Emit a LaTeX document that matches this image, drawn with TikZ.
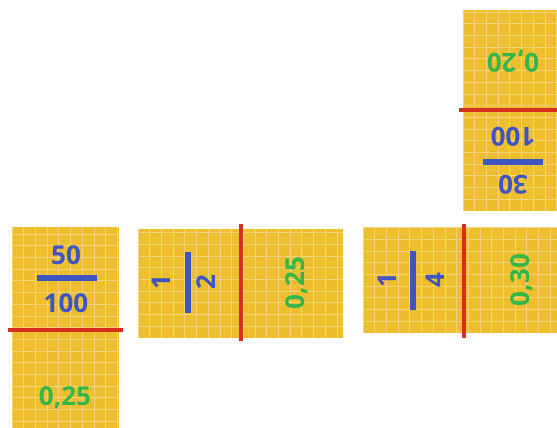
\documentclass[tikz,border=0pt]{standalone}
\usepackage{fontspec}
\usepackage{xcolor}
\usepackage{tikz}
\usetikzlibrary{positioning,calc}
\newfontfamily\digitfont{Open Sans}

\definecolor{tileyellow}{RGB}{238,190,46}
\definecolor{cutred}{RGB}{214,48,28}
\definecolor{fracblue}{RGB}{62,84,192}
\definecolor{decgreen}{RGB}{52,182,72}

% one domino half-pair: fill + light grid
\newcommand{\tilebox}[4]{%
  \fill[tile] (#1,#2) rectangle ++(#3,#4);
  \begin{scope}
    \clip (#1,#2) rectangle ++(#3,#4);
    \draw[gridline,shift={(#1,#2)}] (0,0) grid (#3,#4);
  \end{scope}}

\begin{document}
\begin{tikzpicture}[x=1pt,y=1pt,
  tile/.style={fill=tileyellow},
  gridline/.style={draw=white,opacity=0.35,line width=0.8pt,step=11.7},
  cut/.style={draw=cutred,line width=3.8pt},
  bar/.style={draw=fracblue,line width=5.2pt},
  frac/.style={font=\digitfont\bfseries\fontsize{26}{26}\selectfont,text=fracblue,inner sep=0pt},
  dec/.style={font=\digitfont\bfseries\fontsize{26}{26}\selectfont,text=decgreen,inner sep=0pt}]
\clip (0,0) rectangle (557,428);
\fill[white] (0,0) rectangle (557,428);

% left domino, upright
\tilebox{12}{-5}{107}{206}
\draw[cut] (8,98) -- (123,98);
\node[frac] (a-num) at (66,173) {50};
\node[frac] (a-den) at (66,125) {100};
\draw[bar] (37,150) -- (97,150);
\node[dec] (a-dec) at (65,30) {0,25};

% middle domino, lying
\tilebox{138}{90}{205}{109}
\draw[cut] (241,87) -- (241,204);
\node[frac,rotate=90] (b-num) at (161,146) {1};
\node[frac,rotate=90] (b-den) at (206,146) {2};
\draw[bar] (188,115) -- (188,176);
\node[dec,rotate=90] (b-dec) at (297,145) {0,25};

% right domino, lying
\tilebox{363}{95}{205}{106}
\draw[cut] (464,90) -- (464,204);
\node[frac,rotate=90] (c-num) at (387,148) {1};
\node[frac,rotate=90] (c-den) at (435,148) {4};
\draw[bar] (413,118) -- (413,177);
\node[dec,rotate=90] (c-dec) at (522,148) {0,30};

% top domino, upside down
\tilebox{463}{217}{107}{201}
\draw[cut] (459,318) -- (570,318);
\node[dec,rotate=180] (d-dec) at (513,367) {0,20};
\node[frac,rotate=180] (d-den) at (513,291) {100};
\draw[bar] (483,266) -- (543,266);
\node[frac,rotate=180] (d-num) at (513,243) {30};
\end{tikzpicture}
\end{document}
